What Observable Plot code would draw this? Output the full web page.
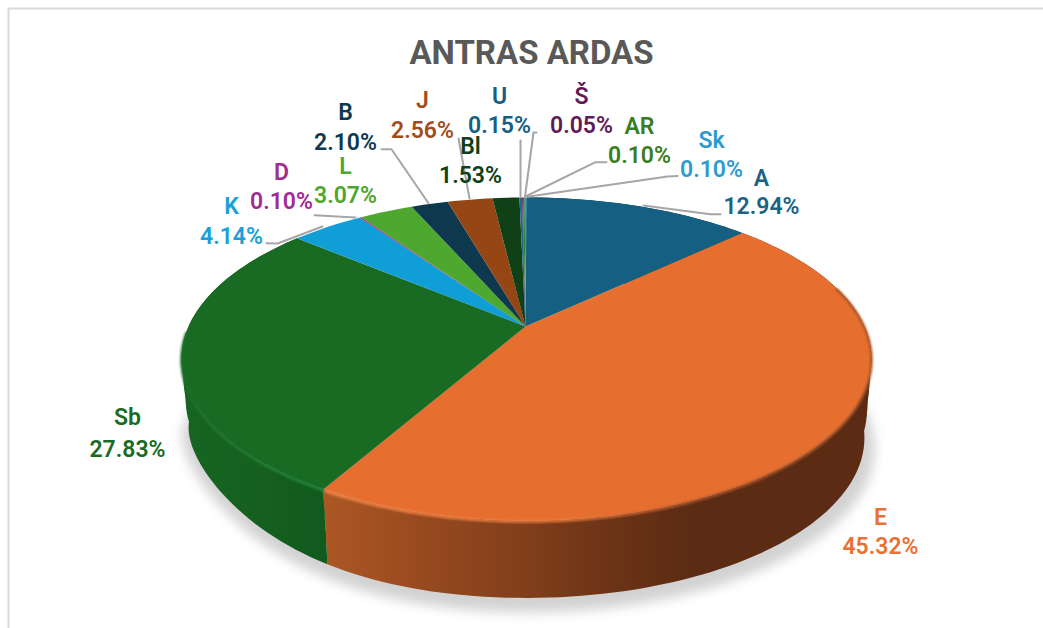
<!DOCTYPE html>
<html><head><meta charset="utf-8">
<style>html,body{margin:0;padding:0;background:#fff}svg{display:block}</style>
<script src="https://cdn.jsdelivr.net/npm/d3@7"></script>
<script src="https://cdn.jsdelivr.net/npm/@observablehq/plot@0.6"></script>
</head><body><script>
const title = "ANTRAS ARDAS";
const categories = ["A","E","Sb","K","D","L","B","J","Bl","U","Š","AR","Sk"];
const values = [12.94,45.32,27.83,4.14,0.10,3.07,2.10,2.56,1.53,0.15,0.05,0.10,0.10];
const sliceColors = ["#156082","#e66f30","#196b24","#0f9ed5","#a02b93","#4ea72e","#0e384e","#964514","#0f4016","#1a6a8e","#6a1a61","#3b7d23","#2f9ad0"];
const labelColors = ["#1a6385","#e97132","#196b24","#1b9fd8","#a02b93","#4ea72e","#0e3a50","#a34c1c","#0f4016","#156082","#601a57","#3b7d23","#2e9bd0"];
// label layout: centre x, baseline of name, baseline of value
const labelX = [761,880,127,231,281,345,345,422,470,499,581,639,711];
const nameBase = [185,524,424,213,179,173,119,107,153,103,103,133,147];
const valueBase = [213,553,456,243,208,202,149,137,182,132,132,162,176];
const leaders = [
 [[720,213.7],[710,213.7],[643,205]],
 [[266,242.7],[277,243],[322,226]],
 [[314,214.7],[355,217]],
 [[381,148.7],[391,148.7],[428,202.7]],
 [[458,138],[469,198]],
 [[520,140],[520,196]],
 [[536,132],[533,132],[524.5,196]],
 [[606,161.7],[595,161.7],[525,196]],
 [[677,175.5],[667,176],[525,196.5]]
];
const W=1043,H=628;
// perspective projection of the pie disc (h=0 top face, h=1 bottom face)
const cam={x0:525,y0:326,a:338,b:155,p:.2013, y1:405,a1:331,b1:153.7,rimDx:1};
function proj(deg,h=0,r=1){
  const t=deg*Math.PI/180,u=r*Math.sin(t),v=r*Math.cos(t),w=1+cam.p*v;
  const a=cam.a+(cam.a1-cam.a)*h,b=cam.b+(cam.b1-cam.b)*h,y0=cam.y0+(cam.y1-cam.y0)*h;
  const lift=55*h*(u<0&&v<0?u*u*u*u*-v:0); // the lower left wall is slightly shallower
  return {x:cam.x0+cam.rimDx*r+a*u/w,y:y0-b*v/w-lift};
}
const total=d3.sum(values);
let cum=0;
const slices=categories.map((c,i)=>{const s=cum/total*360;cum+=values[i];return {c,i,a0:s,a1:cum/total*360,fill:sliceColors[i]};});
function arc(s,h,rev){const n=Math.max(2,Math.ceil((s.a1-s.a0)/1.5));const out=d3.range(n+1).map(k=>proj(s.a0+(s.a1-s.a0)*k/n,h));return rev?out.reverse():out;}
const faces=slices.flatMap(s=>[{...proj(0,0,0),c:s.c,fill:s.fill},...arc(s,0).map(p=>({...p,c:s.c,fill:s.fill}))]);
const wallFill={A:"#0d3a4e",E:"url(#wallE)",Sb:"url(#wallS)"};
// overlapping bands so the wall's silhouette stays smooth between the two discs
const wallBands=[[0,.35],[.25,.65],[.55,1]];
const walls=slices.filter(s=>wallFill[s.c]).flatMap(s=>wallBands.flatMap(([h0,h1],b)=>[...arc(s,h0),...arc(s,h1,true)].map(p=>({...p,c:s.c+b,fill:wallFill[s.c]}))));
// bevel highlight only along the front-facing part of the rim
const rimRanges={E:[75,209.7],Sb:[209.7,268]};
const rimFill={E:"url(#rimE)",Sb:"url(#rimS)"};
const rims=Object.keys(rimRanges).flatMap(c=>{const [a0,a1]=rimRanges[c];return arc({a0,a1},0.012).map(p=>({...p,c,stroke:rimFill[c]}));});
const shadow=d3.range(0,361,3).map(d=>{const p=proj(d,1.07,1.025);return {x:p.x+2,y:p.y+3};});
const names=slices.map((s,i)=>({x:labelX[i],y:nameBase[i],t:s.c,col:labelColors[i]}));
const vals=slices.map((s,i)=>({x:labelX[i],y:valueBase[i],t:values[i].toFixed(2)+"%",col:labelColors[i]}));
const leaderPts=leaders.flatMap((l,k)=>l.map(([x,y])=>({x,y,k})));
const stops=(id,list)=>`<linearGradient id="${id}" gradientUnits="userSpaceOnUse" x1="180" x2="872" y1="0" y2="0">${list.map(([x,c])=>`<stop offset="${(x-180)/692}" stop-color="${c}"/>`).join("")}</linearGradient>`;
const defsMark=()=>{const g=document.createElementNS("http://www.w3.org/2000/svg","g");g.innerHTML=`<defs>`+
 stops("wallE",[[328,"#ab5724"],[420,"#984a1f"],[510,"#84401c"],[600,"#6f3517"],[690,"#5b2b13"],[872,"#5b2b13"]])+
 stops("wallS",[[181,"#176522"],[260,"#15601f"],[330,"#105a1e"]])+
 stops("rimE",[[328,"#f2854a"],[560,"#ee7c3c"],[700,"#a8562a"],[872,"#a8562a"]])+
 stops("rimS",[[181,"#1c7029"],[330,"#23853a"]])+`</defs>`;return g;};
const font="Roboto, 'Open Sans', sans-serif";
const plot=Plot.plot({
  width:W,height:H,margin:0,
  x:{domain:[0,W],range:[0,W],axis:null},
  y:{domain:[0,H],range:[0,H],axis:null},
  style:{fontFamily:font,background:"#fff"},
  marks:[
    defsMark,
    Plot.ruleX([8],{y1:8,y2:H,stroke:"#d9d9d9",strokeWidth:2}),
    Plot.ruleY([8],{x1:8,x2:W,stroke:"#d9d9d9",strokeWidth:2}),
    Plot.line(shadow,{x:"x",y:"y",fill:"#d2d2d2",stroke:"none",imageFilter:"blur(6px)",curve:"linear-closed"}),
    Plot.line(walls,{x:"x",y:"y",z:"c",fill:"fill",stroke:"none",curve:"linear-closed"}),
    Plot.line(faces,{x:"x",y:"y",z:"c",fill:"fill",stroke:"none",curve:"linear-closed"}),
    Plot.line(rims,{x:"x",y:"y",z:"c",stroke:"stroke",strokeWidth:2.5,imageFilter:"blur(1px)"}),
    Plot.line(leaderPts,{x:"x",y:"y",z:"k",stroke:"#a6a6a6",strokeWidth:2}),
    Plot.text(names,{x:"x",y:"y",text:"t",fill:"col",fontSize:23,fontWeight:600,lineAnchor:"bottom",textAnchor:"middle"}),
    Plot.text(vals,{x:"x",y:"y",text:"t",fill:"col",fontSize:23,fontWeight:600,lineAnchor:"bottom",textAnchor:"middle"}),
    Plot.text([title],{x:()=>531,y:()=>63,text:d=>d,fill:"#595959",fontSize:33,fontWeight:700,lineAnchor:"bottom",textAnchor:"middle"})
  ]
});
document.body.appendChild(plot);
</script></body></html>
